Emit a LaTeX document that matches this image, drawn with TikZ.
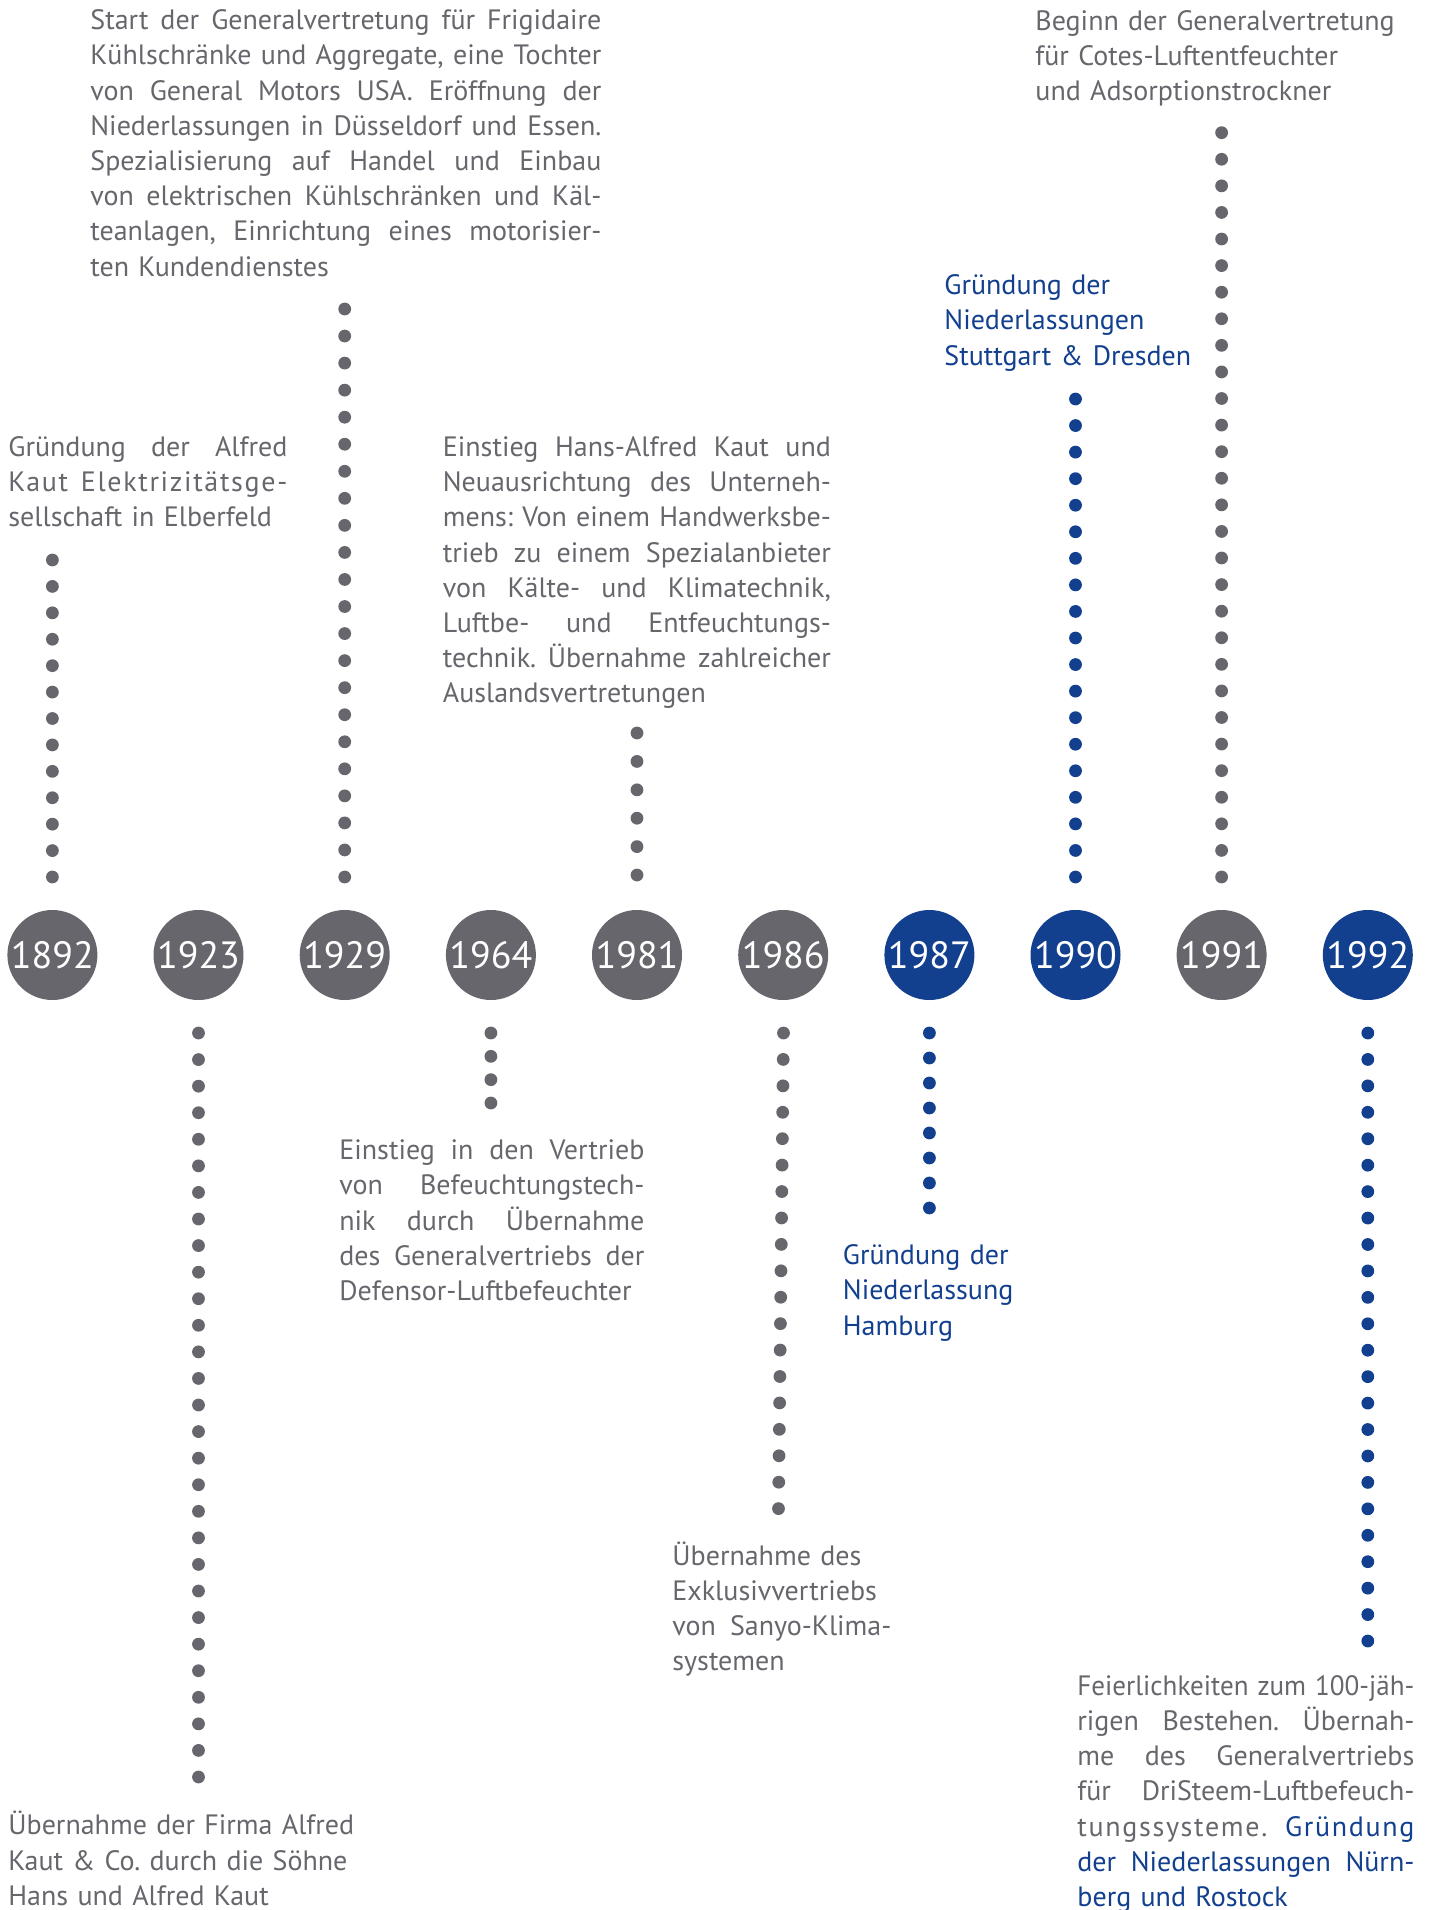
\documentclass[tikz,border=0pt]{standalone}
\usepackage{fontspec}
\setmainfont{PT Sans}
\usepackage{graphicx}
\usetikzlibrary{calc}
\definecolor{tlgray}{HTML}{67666C}
\definecolor{tlblue}{HTML}{12408F}
\newlength\lw
\newsavebox\lbox
\newcommand\J[1]{\noindent\sbox\lbox{#1}\ifdim\wd\lbox>\lw\relax\scalebox{\fpeval{\the\lw/\the\wd\lbox}}[1]{\usebox\lbox}\else\hbox to\lw{\spaceskip=\fontdimen2\font plus 1fil\relax #1}\fi\strut\par}
\newcommand\R[1]{\noindent\mbox{#1}\strut\par}
\newcommand\LS[1]{{\addfontfeature{LetterSpace=6}#1}}
\newcommand\dotcol[4]{\foreach \k in {0,...,#3}{\fill[#4] ($(#1)!{\k/#3}!(#2)$) circle[radius=3.2pt];}}
\tikzset{
  txt/.style={anchor=north west, inner sep=0pt, text=tlgray,
    font=\fontsize{14pt}{17.6pt}\selectfont, text width=#1,
    execute at begin node={\setlength\lw{#1}\setlength\parindent{0pt}\setlength\parskip{0pt}\frenchspacing}},
  yearc/.style={circle, minimum size=45pt, inner sep=0pt, text=white,
    font=\fontsize{19pt}{22pt}\selectfont},
  gy/.style={yearc, fill=tlgray},
  bl/.style={yearc, fill=tlblue}
}
\begin{document}
\begin{tikzpicture}[x=0.5pt,y=-0.5pt]
\useasboundingbox (0,0) rectangle (1430,1910);
\clip (0,0) rectangle (1430,1910);

% year circles
\node[gy] (y1892) at (52.4,955) {1892};
\node[gy] (y1923) at (198.5,955) {1923};
\node[gy] (y1929) at (344.7,955) {1929};
\node[gy] (y1964) at (490.9,955) {1964};
\node[gy] (y1981) at (637,955) {1981};
\node[gy] (y1986) at (783.2,955) {1986};
\node[bl] (y1987) at (929.4,955) {1987};
\node[bl] (y1990) at (1075.5,955) {1990};
\node[gy] (y1991) at (1221.6,955) {1991};
\node[bl] (y1992) at (1367.8,955) {1992};

% texts above
\node[txt=255.5pt] (t1929) at (90,4.6) {%
\J{Start der Generalvertretung für Frigidaire}
\J{Kühlschränke und Aggregate, eine Tochter}
\J{von General Motors USA. Eröffnung der}
\J{Niederlassungen in Düsseldorf und Essen.}
\J{Spezialisierung auf Handel und Einbau}
\J{von elektrischen Kühlschränken und Käl-}
\J{teanlagen, Einrichtung eines motorisier-}
\R{ten Kundendienstes}};

\node[txt=139.5pt] (t1892) at (8,431.5) {%
\J{Gründung der Alfred}
\J{\LS{Kaut Elektrizitätsge-}}
\R{sellschaft in Elberfeld}};

\node[txt=194pt] (t1981) at (442.5,431.5) {%
\J{Einstieg Hans-Alfred Kaut und}
\J{Neuausrichtung des Unterneh-}
\J{mens: Von einem Handwerksbe-}
\J{trieb zu einem Spezialanbieter}
\J{von Kälte- und Klimatechnik,}
\J{Luftbe- und Entfeuchtungs-}
\J{technik. Übernahme zahlreicher}
\R{Auslandsvertretungen}};

\node[txt=190pt, text=tlblue] (t1990) at (944,269.6) {%
\R{Gründung der}
\R{Niederlassungen}
\R{Stuttgart \& Dresden}};

\node[txt=190pt] (t1991) at (1035,5.3) {%
\R{Beginn der Generalvertretung}
\R{für Cotes-Luftentfeuchter}
\R{und Adsorptionstrockner}};

% texts below
\node[txt=190pt] (t1923) at (8,1809.8) {%
\R{Übernahme der Firma Alfred}
\R{Kaut \& Co. durch die Söhne}
\R{Hans und Alfred Kaut}};

\node[txt=152.5pt] (t1964) at (339,1134.7) {%
\J{Einstieg in den Vertrieb}
\J{von Befeuchtungstech-}
\J{nik durch Übernahme}
\J{des Generalvertriebs der}
\R{Defensor-Luftbefeuchter}};

\node[txt=109.5pt] (t1986) at (672,1540.2) {%
\R{Übernahme des}
\R{Exklusivvertriebs}
\J{von Sanyo-Klima-}
\R{systemen}};

\node[txt=120pt, text=tlblue] (t1987) at (842.5,1239.6) {%
\R{Gründung der}
\R{Niederlassung}
\R{Hamburg}};

\node[txt=168.5pt] (t1992) at (1077,1670.3) {%
\J{Feierlichkeiten zum 100-jäh-}
\J{rigen Bestehen. Übernah-}
\J{me des Generalvertriebs}
\J{für DriSteem-Luftbefeuch-}
\J{\LS{tungssysteme.} \LS{\color{tlblue}Gründung}}
\J{\color{tlblue}der Niederlassungen Nürn\mbox{-}}
\R{\color{tlblue}berg und Rostock}};

% dotted connectors (end coordinates)
\coordinate (a1892) at (52.4,560);   \coordinate (b1892) at (52.4,877);
\coordinate (a1929) at (344.7,309);  \coordinate (b1929) at (344.7,877);
\coordinate (a1981) at (637,733);    \coordinate (b1981) at (637,875);
\coordinate (a1990) at (1075.5,399); \coordinate (b1990) at (1075.5,877);
\coordinate (a1991) at (1221.6,132.7); \coordinate (b1991) at (1221.6,877);
\coordinate (a1923) at (198.5,1033); \coordinate (b1923) at (198.5,1777);
\coordinate (a1964) at (490.9,1033); \coordinate (b1964) at (490.9,1103);
\coordinate (a1986) at (783.5,1033); \coordinate (b1986) at (778.5,1508.6);
\coordinate (a1987) at (929.4,1033); \coordinate (b1987) at (929.4,1208);
\coordinate (a1992) at (1367.8,1033); \coordinate (b1992) at (1367.8,1641);

\dotcol{a1892}{b1892}{12}{tlgray}
\dotcol{a1929}{b1929}{21}{tlgray}
\dotcol{a1981}{b1981}{5}{tlgray}
\dotcol{a1990}{b1990}{18}{tlblue}
\dotcol{a1991}{b1991}{28}{tlgray}
\dotcol{a1923}{b1923}{28}{tlgray}
\dotcol{a1964}{b1964}{3}{tlgray}
\dotcol{a1986}{b1986}{18}{tlgray}
\dotcol{a1987}{b1987}{7}{tlblue}
\dotcol{a1992}{b1992}{23}{tlblue}
\end{tikzpicture}
\end{document}
